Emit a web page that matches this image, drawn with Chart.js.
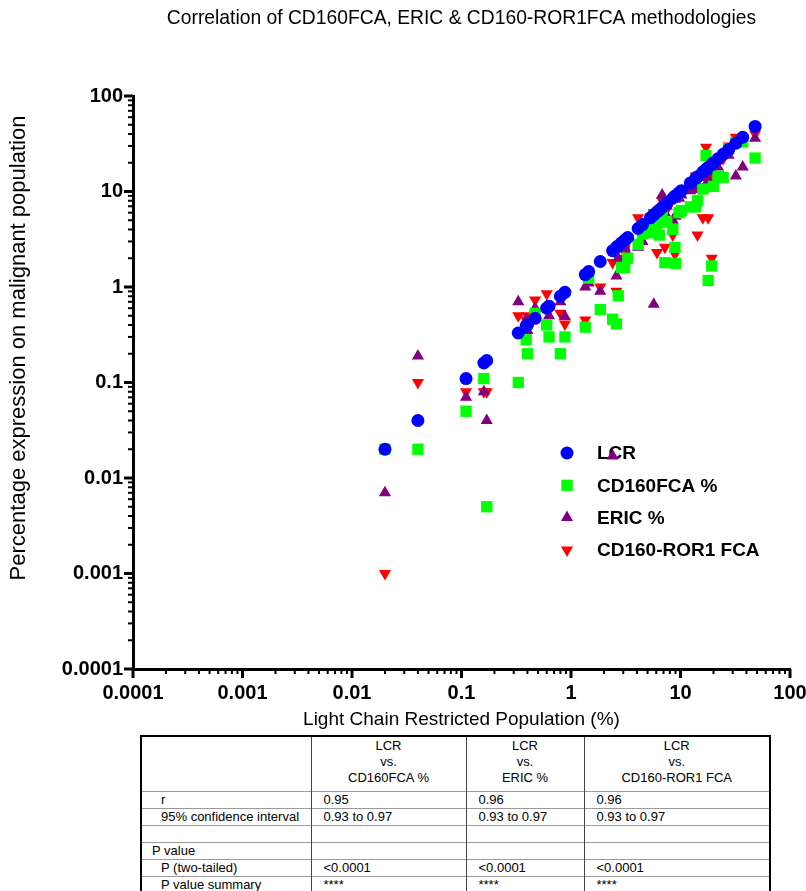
<!DOCTYPE html>
<html>
<head>
<meta charset="utf-8">
<script src="https://cdn.jsdelivr.net/npm/chart.js@4/dist/chart.umd.min.js"></script>
<style>
  html, body { margin: 0; padding: 0; background: #fff; width: 806px; height: 891px; overflow: hidden; }
  #wrap { position: relative; width: 806px; height: 891px; }
  canvas { position: absolute; left: 0; top: 0; }
  table.stats {
    position: absolute; left: 140px; top: 735px; width: 629px;
    border-collapse: collapse; table-layout: fixed;
    font-family: "Liberation Sans", Arial, sans-serif; font-size: 13px; color: #000;
    border: 2px solid #000;
  }
  table.stats td { padding: 0; height: 16px; line-height: 16px; border-top: 1px solid #9a9a9a; border-left: 1px solid #444; white-space: nowrap; overflow: hidden; }
  table.stats tr.head td { height: 53px; vertical-align: top; text-align: center; padding-top: 1px; border-top: none; }
  table.stats td.c1 { padding-left: 19px; }
  table.stats td.c1.h { padding-left: 10px; }
  table.stats td.v { padding-left: 12px; }
</style>
</head>
<body>
<div id="wrap">
  <canvas id="c" width="806" height="735"></canvas>
  <table class="stats" id="stats"></table>
</div>
<script>
// ---------------- data ----------------
const chartTitle = "Correlation of CD160FCA, ERIC & CD160-ROR1FCA methodologies";
const xTitle = "Light Chain Restricted Population (%)";
const yTitle = "Percentage expression on malignant population";
const seriesNames = ["LCR", "CD160FCA %", "ERIC %", "CD160-ROR1 FCA"];
const tickValues = [0.0001, 0.001, 0.01, 0.1, 1, 10, 100];

// light chain restricted population per patient (x), LCR series is y = x
const lcr   = [0.02, 0.04, 0.11, 0.16, 0.17, 0.33, 0.39, 0.40, 0.47, 0.60, 0.63, 0.80, 0.88, 1.35, 1.45, 1.85, 2.4, 2.6, 2.7, 2.9, 3.1, 3.3, 4.1, 4.5, 5.3, 5.7, 6.1, 6.4, 6.8, 7.2, 7.5, 8.5, 8.9, 9.0, 9.7, 10.2, 12.3, 13.8, 14.3, 16, 17.1, 17.9, 19.3, 20, 22, 24.5, 27.5, 32, 37, 48];
const cd160 = [0.02, 0.02, 0.05, 0.11, 0.005, 0.10, 0.28, 0.20, 0.53, 0.40, 0.30, 0.20, 0.30, 0.38, 1.24, 0.58, 0.46, 0.41, 0.81, 1.6, 1.6, 2.0, 2.8, 3.6, 3.7, 4.5, 4.6, 3.5, 6.0, 1.8, 4.8, 4.0, 2.6, 1.77, 6.0, 6.3, 6.9, 6.9, 8.0, 10.6, 23.8, 1.17, 1.66, 11.3, 14.5, 14, 28, 32.5, 33, 22.4];
const eric  = [0.007, 0.19, 0.07, 0.08, 0.04, 0.70, 0.45, 0.35, 0.60, 0.63, 0.50, 0.70, 0.49, 1.0, 1.1, 0.9, 0.017, 1.3, 2.0, 1.6, 2.6, 2.2, 2.6, 3.0, 4.2, 0.66, 5.5, 6.5, 9.2, 6.0, 7.0, 5.0, 8.3, 5.5, 8.5, 9.2, 10.2, 10.5, 12, 10.5, 14, 13, 19, 16, 18, 14, 24, 14.5, 18, 36];
const ror1  = [0.001, 0.10, 0.08, 0.08, 0.08, 0.50, 0.45, 0.50, 0.73, 0.85, 0.60, 0.53, 0.41, 0.45, 1.3, 1.0, 1.8, 0.9, 2.0, 2.6, 2.5, 3.0, 5.3, 4.5, 4.0, 6.0, 2.3, 5.0, 8.0, 2.6, 6.5, 3.5, 2.2, 9.0, 9.5, 10, 11, 14.5, 3.5, 5.3, 29, 5.3, 2.0, 14, 20, 22, 30, 37, 35, 40];
const lcrDup = lcr; // LCR plotted against itself

// table content
const tableHead = ["", "LCR<br>vs.<br>CD160FCA %", "LCR<br>vs.<br>ERIC %", "LCR<br>vs.<br>CD160-ROR1 FCA"];
const tableRows = [
  ["r", "0.95", "0.96", "0.96", false],
  ["95% confidence interval", "0.93 to 0.97", "0.93 to 0.97", "0.93 to 0.97", false],
  ["", "", "", "", false],
  ["P value", "", "", "", true],
  ["P (two-tailed)", "<0.0001", "<0.0001", "<0.0001", false],
  ["P value summary", "****", "****", "****", false]
];

// ---------------- styling ----------------
const FONT = "'Liberation Sans', Arial, Helvetica, sans-serif";
const colors = ["#0000ff", "#00ff00", "#800080", "#ff0000"];
const styles = ["circle", "rect", "triangle", "triangle"];
const rotations = [0, 0, 0, 180];
const radii = [6.5, 8, 7, 7];

const series = [lcrDup, cd160, eric, ror1];
const datasets = series.map((ys, k) => ({
  label: seriesNames[k],
  data: lcr.map((x, i) => ({ x: x, y: ys[i] })),
  pointStyle: styles[k],
  pointRotation: rotations[k],
  pointRadius: radii[k],
  pointBackgroundColor: colors[k],
  pointBorderColor: colors[k],
  pointBorderWidth: 0,
  showLine: false
}));

function fmt(v) {
  for (const t of tickValues) if (Math.abs(v - t) / t < 1e-6) return String(t);
  return "";
}

// minor / major tick marks drawn against the library scales
const tickPlugin = {
  id: "logTicks",
  afterDraw(chart) {
    const ctx = chart.ctx, xs = chart.scales.x, ys = chart.scales.y;
    const area = chart.chartArea;
    ctx.save();
    ctx.strokeStyle = "#000";
    for (let d = -4; d <= 2; d++) {
      const major = Math.pow(10, d);
      ctx.lineWidth = 3;
      let px = xs.getPixelForValue(major);
      ctx.beginPath(); ctx.moveTo(px, area.bottom); ctx.lineTo(px, area.bottom + 9); ctx.stroke();
      let py = ys.getPixelForValue(major);
      ctx.beginPath(); ctx.moveTo(area.left, py); ctx.lineTo(area.left - 9, py); ctx.stroke();
      if (d < 2) {
        ctx.lineWidth = 2;
        for (let m = 2; m <= 9; m++) {
          const v = m * major;
          px = xs.getPixelForValue(v);
          ctx.beginPath(); ctx.moveTo(px, area.bottom); ctx.lineTo(px, area.bottom + 5); ctx.stroke();
          py = ys.getPixelForValue(v);
          ctx.beginPath(); ctx.moveTo(area.left, py); ctx.lineTo(area.left - 5, py); ctx.stroke();
        }
      }
    }
    ctx.restore();
  }
};

// chart title, y-axis title and in-plot legend
const textPlugin = {
  id: "texts",
  beforeDatasetsDraw(chart) {
    const ctx = chart.ctx, area = chart.chartArea;
    ctx.save();
    ctx.fillStyle = "#000";
    ctx.font = "19.3px " + FONT;
    ctx.textAlign = "center"; ctx.textBaseline = "middle";
    ctx.fillText(chartTitle, (area.left + area.right) / 2, 19);
    ctx.save();
    ctx.translate(19, 348);
    ctx.rotate(-Math.PI / 2);
    ctx.font = "22px " + FONT;
    ctx.fillText(yTitle, 0, 0);
    ctx.restore();
    const lx = 567, ly0 = 453, step = 32.3;
    ctx.font = "bold 19px " + FONT;
    ctx.textAlign = "left";
    seriesNames.forEach((name, k) => {
      const y = ly0 + k * step;
      ctx.fillStyle = colors[k]; ctx.strokeStyle = colors[k];
      Chart.helpers.drawPoint(ctx, { pointStyle: styles[k], rotation: rotations[k], radius: radii[k], borderWidth: 0 }, lx, y);
      ctx.fillStyle = "#000";
      ctx.fillText(name, 597, y + 1);
    });
    ctx.restore();
  }
};

new Chart(document.getElementById("c"), {
  type: "scatter",
  data: { datasets: datasets },
  options: {
    responsive: false,
    animation: false,
    devicePixelRatio: 1,
    layout: { padding: { left: 0, right: 16, top: 96, bottom: 0 } },
    plugins: { legend: { display: false }, tooltip: { enabled: false }, title: { display: false } },
    scales: {
      x: {
        type: "logarithmic", min: 0.0001, max: 100,
        afterBuildTicks: (s) => { s.ticks = tickValues.map(v => ({ value: v })); },
        afterFit: (s) => { s.height = 66; s.paddingLeft = 0; s.paddingRight = 0; },
        grid: { display: false, drawTicks: false },
        border: { display: true, color: "#000", width: 3 },
        ticks: { color: "#000", padding: 12, maxRotation: 0, autoSkip: false, font: { family: FONT, size: 20, weight: "bold" }, callback: (v) => fmt(v) },
        title: { display: true, text: xTitle, color: "#000", font: { family: FONT, size: 19 }, padding: { top: 0, bottom: 4 } }
      },
      y: {
        type: "logarithmic", min: 0.0001, max: 100,
        afterBuildTicks: (s) => { s.ticks = tickValues.map(v => ({ value: v })); },
        afterFit: (s) => { s.width = 133; s.paddingTop = 0; s.paddingBottom = 0; },
        grid: { display: false, drawTicks: false },
        border: { display: true, color: "#000", width: 3 },
        ticks: { color: "#000", padding: 10, autoSkip: false, font: { family: FONT, size: 20, weight: "bold" }, callback: (v) => fmt(v) }
      }
    }
  },
  plugins: [tickPlugin, textPlugin]
});

// build the statistics table
const tbl = document.getElementById("stats");
const colW = [170, 155, 118, 186];
let html = "<colgroup>" + colW.map(w => '<col style="width:' + w + 'px">').join("") + "</colgroup>";
html += '<tr class="head">' + tableHead.map(h => "<td>" + h + "</td>").join("") + "</tr>";
const esc = s => s.replace(/</g, "&lt;");
tableRows.forEach(r => {
  html += "<tr>";
  html += '<td class="c1' + (r[4] ? " h" : "") + '">' + esc(r[0]) + "</td>";
  for (let j = 1; j <= 3; j++) html += '<td class="v">' + esc(r[j]) + "</td>";
  html += "</tr>";
});
tbl.innerHTML = html;
</script>
</body>
</html>
